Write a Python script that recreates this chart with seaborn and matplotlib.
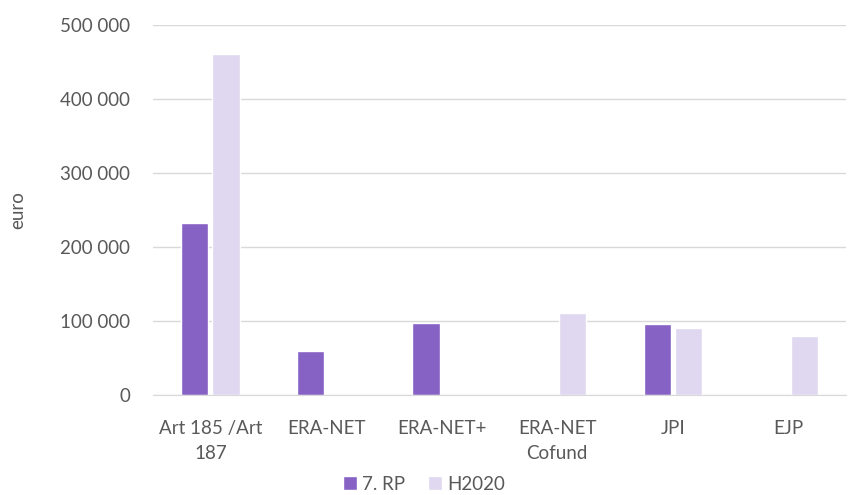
import matplotlib.pyplot as plt
import seaborn as sns
import pandas as pd
from matplotlib.ticker import FuncFormatter

# Data
categories = ["Art 185 /Art\n187", "ERA-NET", "ERA-NET+", "ERA-NET\nCofund", "JPI", "EJP"]
rp7 = [232000, 59000, 97000, 0, 96000, 0]
h2020 = [460000, 0, 0, 111000, 90000, 80000]
series = ["7. RP", "H2020"]

df = pd.DataFrame({
    "kategorie": categories * 2,
    "euro": rp7 + h2020,
    "program": [series[0]] * len(categories) + [series[1]] * len(categories),
})

sns.set_style("white")
plt.rcParams["font.family"] = ["Lato", "DejaVu Sans"]
txt = "#595959"

fig = plt.figure(figsize=(8.48, 4.95), dpi=100)
ax = fig.add_axes([0.180, 0.202, 0.818, 0.748])

sns.barplot(data=df, x="kategorie", y="euro", hue="program",
            palette=["#8662C4", "#DFD8F0"], saturation=1, width=0.54, gap=0.13,
            ax=ax, legend=True)

ax.set_ylim(0, 500000)
ax.set_yticks(range(0, 500001, 100000))
ax.yaxis.set_major_formatter(FuncFormatter(lambda v, p: f"{int(v):,}".replace(",", " ")))
ax.grid(axis="y", color="#D9D9D9", linewidth=1)
ax.set_axisbelow(True)
for s in ["top", "right", "left"]:
    ax.spines[s].set_visible(False)
ax.spines["bottom"].set_color("#D9D9D9")
ax.tick_params(axis="both", length=0, labelsize=13.5, colors=txt)
ax.tick_params(axis="y", pad=16)
ax.tick_params(axis="x", pad=18)
for lbl in ax.get_xticklabels():
    lbl.set_linespacing(1.6)
ax.set_xlabel("")
ax.set_ylabel("euro", fontsize=13.5, color=txt)
ax.yaxis.set_label_coords(-0.182, 0.5)

handles, labels = ax.get_legend_handles_labels()
ax.get_legend().remove()
fig.legend(handles, labels, loc="center", bbox_to_anchor=(0.5, 0.022), ncol=2,
           frameon=False, fontsize=13.5, handlelength=0.75, handleheight=0.75,
           handletextpad=0.3, columnspacing=1.2, labelcolor=txt)

fig.savefig("out.png", dpi=100)
